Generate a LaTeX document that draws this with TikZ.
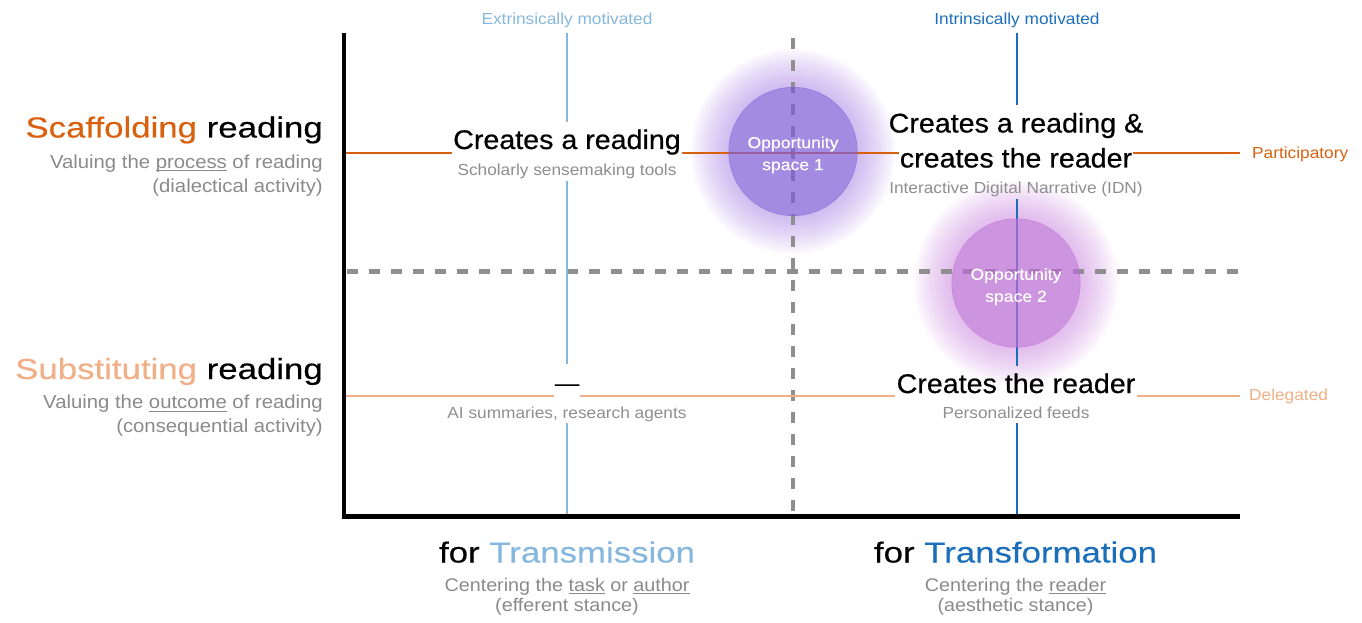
\documentclass[tikz,border=0pt]{standalone}
\usepackage{fontspec}
\setmainfont{Liberation Sans}[FakeStretch=1.08]
\newfontfamily\bigfont{Liberation Sans}[FakeStretch=1.2,FakeBold=0.3]
\newfontfamily\ttlfont{Liberation Sans}[FakeStretch=1.06,FakeBold=0.5]
\newfontfamily\oppfont{Liberation Sans}[FakeStretch=1.1,FakeBold=0.4]
\usetikzlibrary{calc}
\definecolor{orS}{HTML}{D9600F}
\definecolor{orL}{HTML}{F0AF86}
\definecolor{blL}{HTML}{86B8DF}
\definecolor{blD}{HTML}{1B6FBA}
\definecolor{grT}{HTML}{8A8A8A}
\definecolor{grS}{HTML}{8E8E8E}
\definecolor{dgr}{HTML}{8F8F8F}
\definecolor{op1}{HTML}{7E5ED4}
\definecolor{op2}{HTML}{BA6CD2}
\definecolor{gl1}{HTML}{9A6EE0}
\definecolor{gl2}{HTML}{C070D8}
\newcommand\myul[1]{\setbox0\hbox{#1}\rlap{\rule[-3.2pt]{\wd0}{0.9pt}}\box0{}}
\begin{document}
\begin{tikzpicture}[x=1pt,y=-1pt,
  bigl/.style={font=\bigfont\fontsize{29}{34}\selectfont, inner sep=0pt},
  ttl/.style={font=\ttlfont\fontsize{27}{32}\selectfont, text height=19.7pt, text depth=5.7pt, inner xsep=1pt, inner ysep=7.5pt},
  subq/.style={font=\fontsize{16}{19}\selectfont, text=grS, text height=11.7pt, text depth=3.4pt, inner xsep=1pt, inner ysep=1.5pt},
  side/.style={font=\fontsize{18.8}{22}\selectfont, text=grT, inner sep=0pt},
  bot/.style={font=\fontsize{18.3}{21}\selectfont, text=grT, inner sep=0pt},
  small/.style={font=\fontsize{16}{19}\selectfont, inner sep=0pt},
  axis/.style={line width=4.5pt, black, line join=miter},
  guide/.style={line width=4.5pt, dgr, dash pattern=on 11pt off 11pt},
  lnP/.style={line width=1.8pt, orS},
  lnD/.style={line width=1.8pt, orL},
  lnT/.style={line width=1.8pt, blL},
  lnF/.style={line width=1.8pt, blD},
  opp/.style={circle, minimum size=129pt, inner sep=0pt, fill opacity=0.72, draw=none},
  opptxt/.style={font=\oppfont\fontsize{16}{22}\selectfont, text=white, align=center, inner sep=0pt}
]
\useasboundingbox (0,0) rectangle (1362,623);
% glow
\foreach \r in {65.5,67,...,104}{
  \fill[gl1, opacity=0.022, even odd rule] (793,151.5) circle (\r) (793,151.5) circle (64);
  \fill[gl2, opacity=0.022, even odd rule] (1016,283) circle (\r) (1016,283) circle (64);
}
% coordinates
\coordinate (ytop) at (344,33.3);
\coordinate (origin) at (344,516.5);
\coordinate (xend) at (1239.5,516.5);
\coordinate (tT) at (567,33.3);
\coordinate (tF) at (1017,33.3);
\coordinate (bT) at (567,516.5);
\coordinate (bF) at (1017,516.5);
\coordinate (pS) at (346,152.8);
\coordinate (dS) at (346,395.7);
\coordinate (vTop) at (793,38);
\coordinate (vBot) at (793,516.5);
\coordinate (hL) at (347,271.5);
\coordinate (hR) at (1240,271.5);
% text nodes
\node[small, text=blL, anchor=base] (extr) at (567,24.5) {Extrinsically motivated};
\node[small, text=blD, anchor=base] (intr) at (1017,24.5) {Intrinsically motivated};
\node[small, text=orS, anchor=base west, inner xsep=12pt] (part) at (1240,158.3) {Participatory};
\node[small, text=orL, anchor=base west, inner xsep=9pt] (dele) at (1240,400) {Delegated};

\node[ttl, anchor=base] (cr) at (567,149) {Creates a reading};
\node[subq, anchor=base] (crs) at (567,175.5) {Scholarly sensemaking tools};
\node[ttl, anchor=base] (cb1) at (1016,132.5) {Creates a reading \&};
\node[ttl, anchor=base] (cb2) at (1016,167.5) {creates the reader};
\node[subq, anchor=base] (cbs) at (1016,193.5) {Interactive Digital Narrative (IDN)};
\node[ttl, font=\ttlfont\fontsize{23}{28}\selectfont, anchor=base] (na) at (567,391) {—};
\node[subq, anchor=base] (nas) at (567,418.3) {AI summaries, research agents};
\node[ttl, anchor=base] (ctr) at (1016,393) {Creates the reader};
\node[subq, anchor=base] (ctrs) at (1016,418.3) {Personalized feeds};

\node[bigl, anchor=base east] (scf) at (323,137.5) {\textcolor{orS}{Scaffolding} reading};
\node[side, anchor=base east] (scf1) at (323,168) {Valuing the \myul{process} of reading};
\node[side, anchor=base east] (scf2) at (323,192.5) {(dialectical activity)};
\node[bigl, anchor=base east] (sub) at (323,379) {\textcolor{orL}{Substituting} reading};
\node[side, anchor=base east] (sub1) at (323,408.5) {Valuing the \myul{outcome} of reading};
\node[side, anchor=base east] (sub2) at (323,432.5) {(consequential activity)};

\node[bigl, anchor=base] (ftm) at (567,562.5) {for \textcolor{blL}{Transmission}};
\node[bot, anchor=base] (ftm1) at (567,591) {Centering the \myul{task} or \myul{author}};
\node[bot, anchor=base] (ftm2) at (567,611) {(efferent stance)};
\node[bigl, anchor=base] (ftf) at (1015.5,562.5) {for \textcolor{blD}{Transformation}};
\node[bot, anchor=base] (ftf1) at (1015.5,591) {Centering the \myul{reader}};
\node[bot, anchor=base] (ftf2) at (1015.5,611) {(aesthetic stance)};

% dashed quadrant guides
\draw[guide] (vTop) -- (vBot);
\draw[guide] (hL) -- (hR);
% coloured guide lines
\draw[lnP] (pS) -- (pS -| cr.west) (pS -| cr.east) -- (pS -| cb2.west) (pS -| cb2.east) -- (pS -| part.west);
\draw[lnD] (dS) -- (dS -| na.west) (dS -| na.east) -- (dS -| ctr.west) (dS -| ctr.east) -- (dS -| dele.west);
\draw[lnT] (tT) -- (tT |- cr.north) (tT |- crs.south) -- (tT |- na.north) (tT |- nas.south) -- (bT);
\draw[lnF] (tF) -- (tF |- cb1.north) (tF |- cbs.south) -- (tF |- ctr.north) (tF |- ctrs.south) -- (bF);
% axes
\draw[axis] (ytop) -- (origin) -- (xend);
% opportunity spaces
\node[opp, fill=op1] (o1) at (793,151.5) {};
\node[opp, fill=op2] (o2) at (1016,283) {};
\node[opptxt] (o1t) at (793,155) {Opportunity\\space 1};
\node[opptxt] (o2t) at (1016,286.7) {Opportunity\\space 2};
\end{tikzpicture}
\end{document}
